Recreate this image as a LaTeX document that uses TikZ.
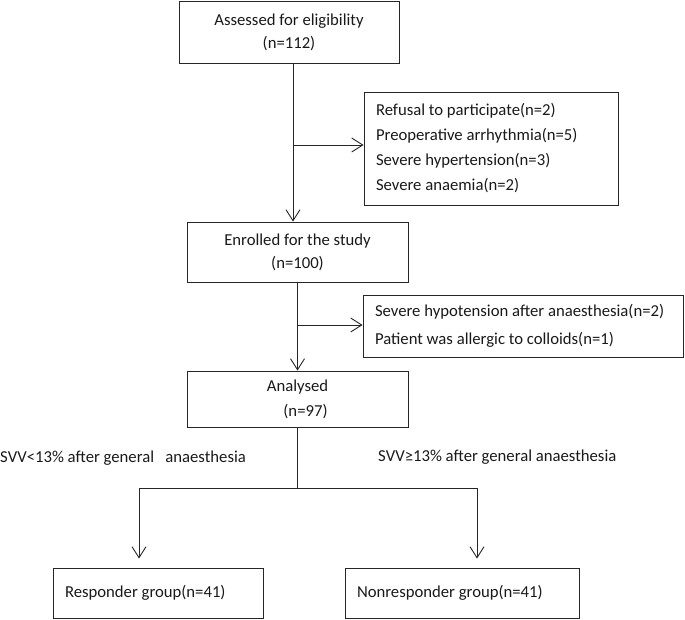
\documentclass[tikz,border=0pt]{standalone}
\usepackage{fontspec}
\setmainfont{Carlito}
\usetikzlibrary{arrows.meta}
\begin{document}
\begin{tikzpicture}[x=1pt,y=-1pt,
  every node/.style={font=\fontsize{16.7}{23}\selectfont, text=black!90},
  box/.style={draw=black!85, line width=0.9pt, align=center, inner sep=0pt},
  lbox/.style={draw=black!85, line width=0.9pt, align=flush left, inner xsep=12pt, inner ysep=0pt},
  arr/.style={draw=black!85, line width=0.9pt, -{Straight Barb[length=11pt,width=14pt]}},
  ln/.style={draw=black!85, line width=0.9pt},
  lab/.style={anchor=west, inner sep=0pt}]
\useasboundingbox (0,0) rectangle (685,619);

\node[box, minimum width=220pt, minimum height=62pt] (b1) at (289,32) {Assessed for eligibility\\(n=112)};
\node[lbox, text width=230pt, minimum height=113pt, font=\fontsize{16.7}{25}\selectfont] (e1) at (491,148.5)
  {Refusal to participate(n=2)\\Preoperative arrhythmia(n=5)\\Severe hypertension(n=3)\\Severe anaemia(n=2)};
\node[box, minimum width=221pt, minimum height=60pt] (b2) at (297.5,252) {Enrolled for the study\\(n=100)};
\node[lbox, text width=296pt, minimum height=62pt, font=\fontsize{16.7}{27.5}\selectfont] (e2) at (523,326)
  {Severe hypotension after anaesthesia(n=2)\\Patient was allergic to colloids(n=1)};
\node[box, minimum width=221pt, minimum height=56pt, font=\fontsize{16.7}{25}\selectfont] (b3) at (297.5,399) {Analysed\\\hspace*{16pt}(n=97)};
\node[lbox, text width=186pt, minimum height=50pt] (b4) at (158,593) {Responder group(n=41)};
\node[lbox, text width=210pt, minimum height=50pt] (b5) at (462,593) {Nonresponder group(n=41)};

\node[lab] (l1) at (0,458) {SVV<13\% after general\ \ \ anaesthesia};
\node[lab] (l2) at (378,457) {SVV≥13\% after general anaesthesia};

\coordinate (t1) at ([xshift=4pt]b1.south);
\coordinate (k1) at ([yshift=3.5pt]e1.west);
\draw[arr] (t1) -- (t1 |- b2.north);
\draw[arr] (t1 |- k1) -- (k1);

\coordinate (k2) at ([yshift=1pt]e2.west);
\draw[arr] (b2.south) -- (b3.north);
\draw[arr] (b2.south |- k2) -- (k2);

\coordinate (L) at (139,488);
\coordinate (R) at (477,488);
\draw[ln] (b3.south) -- (b3.south |- L);
\draw[ln] (L) -- (R);
\draw[arr, shorten >=9pt] (L) -- (L |- b4.north);
\draw[arr, shorten >=9pt] (R) -- (R |- b5.north);
\end{tikzpicture}
\end{document}
